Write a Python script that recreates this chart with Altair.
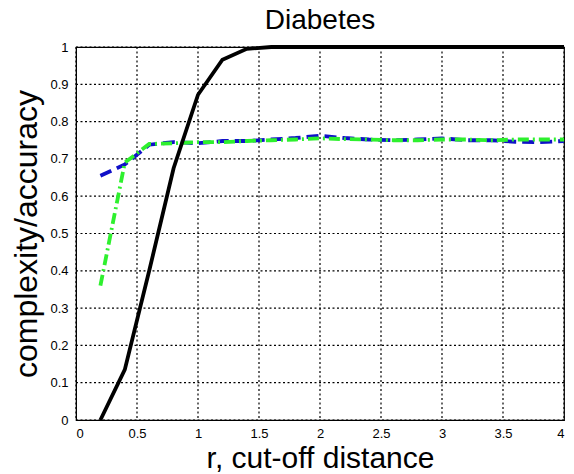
import altair as alt
import pandas as pd

r = [0.2, 0.4, 0.6, 0.8, 1.0, 1.2, 1.4, 1.6, 1.8, 2.0,
     2.2, 2.4, 2.6, 2.8, 3.0, 3.2, 3.4, 3.6, 3.8, 4.0]
complexity = [0.0, 0.135, 0.40, 0.675, 0.872, 0.966, 0.995, 1.0, 1.0, 1.0,
              1.0, 1.0, 1.0, 1.0, 1.0, 1.0, 1.0, 1.0, 1.0, 1.0]
acc_blue = [0.655, 0.685, 0.738, 0.745, 0.742, 0.748, 0.748, 0.752, 0.756, 0.762,
            0.756, 0.752, 0.750, 0.752, 0.755, 0.750, 0.750, 0.746, 0.745, 0.748]
acc_green = [0.36, 0.69, 0.740, 0.742, 0.745, 0.745, 0.748, 0.750, 0.752, 0.755,
             0.753, 0.752, 0.750, 0.750, 0.752, 0.752, 0.750, 0.752, 0.752, 0.752]

x_ticks = [0, 0.5, 1, 1.5, 2, 2.5, 3, 3.5, 4]
y_ticks = [0, 0.1, 0.2, 0.3, 0.4, 0.5, 0.6, 0.7, 0.8, 0.9, 1.0]

df = pd.DataFrame({"r": r, "complexity": complexity, "blue": acc_blue, "green": acc_green})
gx = pd.DataFrame({"r": x_ticks})
gy = pd.DataFrame({"v": y_ticks})

FONT = "Liberation Sans"

x_scale = alt.Scale(domain=[0, 4], nice=False)
y_scale = alt.Scale(domain=[0, 1], nice=False)

common = dict(grid=False, ticks=False, domainColor="black", labelColor="black",
              titleColor="black", titleFontWeight="normal", labelFont=FONT,
              titleFont=FONT, labelFontSize=13)

x_axis = alt.Axis(values=x_ticks, format="~g", title="r, cut-off distance",
                  labelPadding=7, titleFontSize=30, titlePadding=3, **common)
y_axis = alt.Axis(values=y_ticks, format="~g", title="complexity/accuracy",
                  labelPadding=8, titleFontSize=32, titlePadding=6, **common)

X = alt.X("r:Q", scale=x_scale, axis=x_axis)

grid_x = alt.Chart(gx).mark_rule(color="#000000", strokeWidth=1.2, strokeDash=[2, 2.5]).encode(x=X)
grid_y = alt.Chart(gy).mark_rule(color="#000000", strokeWidth=1.2, strokeDash=[2, 2.5]).encode(
    y=alt.Y("v:Q", scale=y_scale, axis=y_axis))

base = alt.Chart(df)
blue = base.mark_line(color="#1010c8", strokeWidth=3.8, strokeDash=[12, 6]).encode(
    x=X, y=alt.Y("blue:Q", scale=y_scale, axis=y_axis))
green = base.mark_line(color="#2ef02e", strokeWidth=3.8, strokeDash=[11, 4, 2, 4]).encode(
    x=X, y=alt.Y("green:Q", scale=y_scale, axis=y_axis))
black = base.mark_line(color="black", strokeWidth=3.8).encode(
    x=X, y=alt.Y("complexity:Q", scale=y_scale, axis=y_axis))

chart = alt.layer(grid_x, grid_y, blue, green, black).properties(
    width=488, height=373,
    background="white",
    title=alt.TitleParams("Diabetes", fontSize=28, fontWeight="normal", font=FONT,
                          color="black", offset=4),
    autosize=alt.AutoSizeParams(type="none"),
    padding={"left": 68, "top": 39, "right": 2, "bottom": 54},
).configure_view(stroke="black", strokeWidth=1.2)

chart.save("out.html", embed_options={"renderer": "svg", "actions": False})
